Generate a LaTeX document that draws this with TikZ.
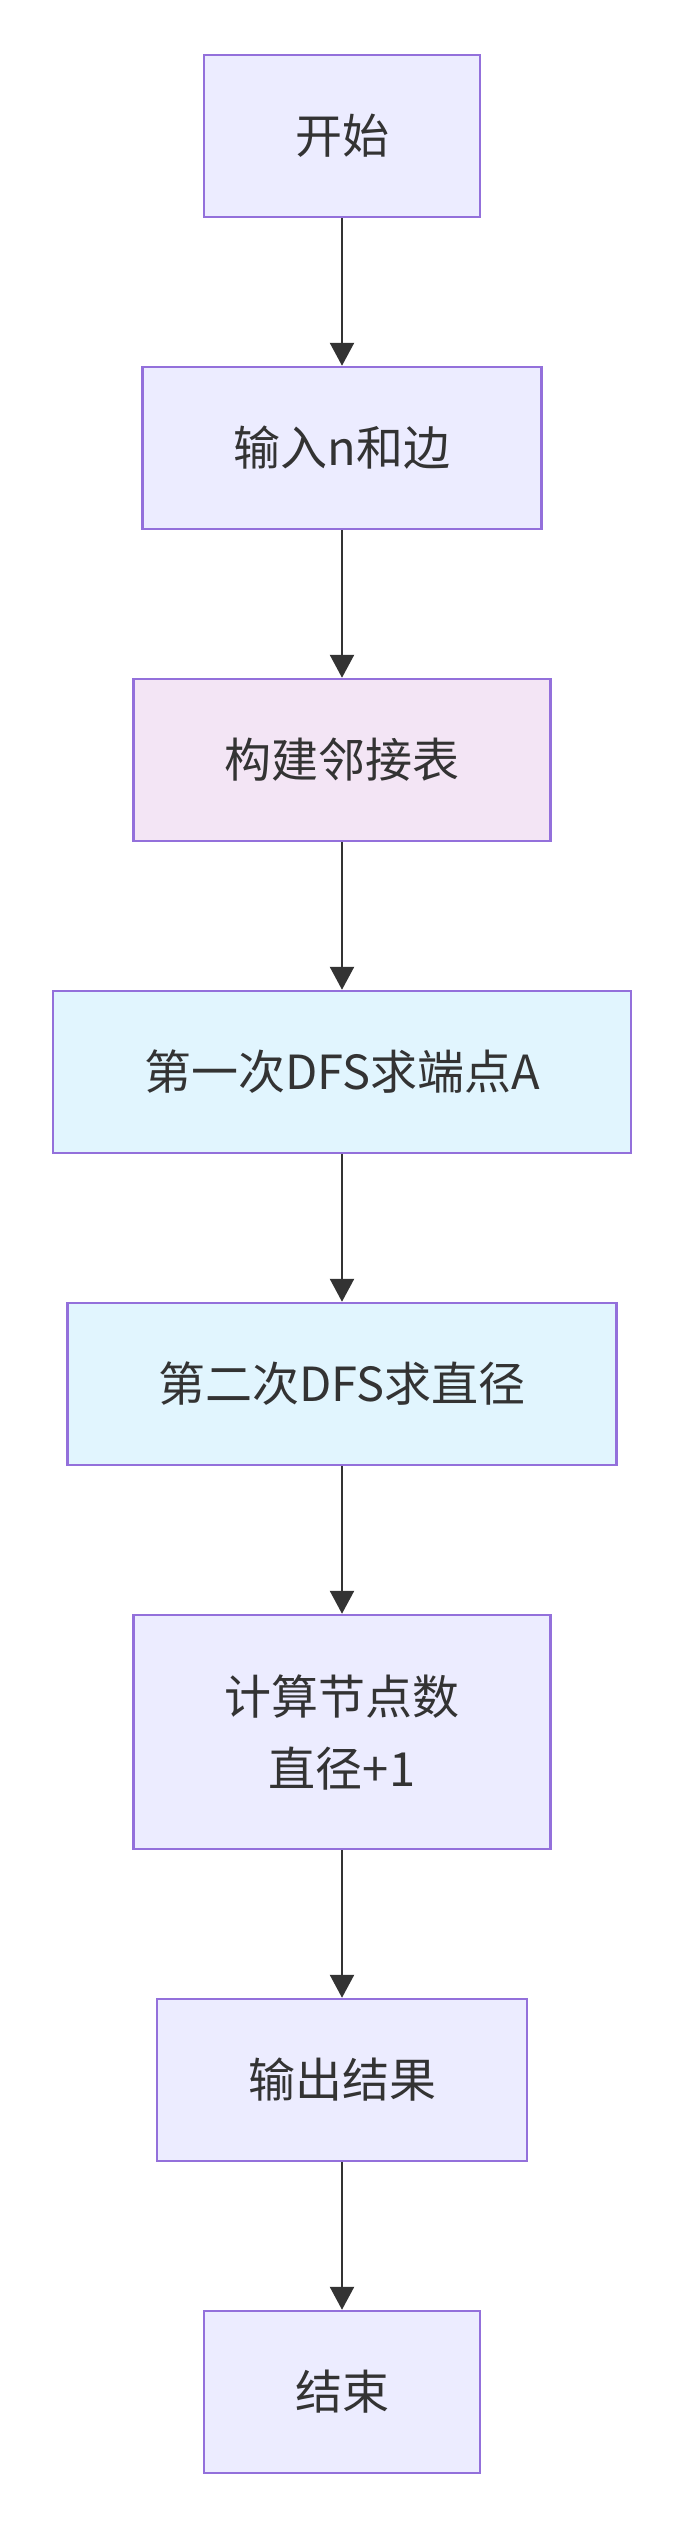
\documentclass[tikz,border=0pt]{standalone}
\usepackage{xcolor}
\usepackage{fontspec}
\setmainfont{Noto Sans CJK SC}
\usepackage{tikz}
\usetikzlibrary{positioning,arrows.meta}

\definecolor{boxfill}{HTML}{ECECFF}
\definecolor{boxdraw}{HTML}{9370DB}
\definecolor{pinkfill}{HTML}{F3E5F5}
\definecolor{bluefill}{HTML}{E1F5FE}
\definecolor{inkgray}{HTML}{333333}

\begin{document}
\begin{tikzpicture}[
    x=1pt, y=1pt,
    stepbox/.style={rectangle, draw=boxdraw, fill=boxfill, line width=2.5pt,
        minimum height=162pt, inner xsep=91pt, align=center, text=inkgray,
        font=\fontsize{47pt}{72pt}\selectfont},
    flow/.style={-{Triangle[width=24pt,length=23pt]}, draw=inkgray, line width=2.5pt},
    node distance=147.5pt
    ]
        \useasboundingbox (0,0) rectangle (684,-2528);

        %Nodes
        \node[stepbox]
            (start)  at (342,-136)   {开始};
        \node[stepbox]
            (input)  [below=of start]  {输入n和边};
        \node[stepbox, fill=pinkfill]
            (adj)    [below=of input]  {构建邻接表};
        \node[stepbox, fill=bluefill]
            (dfsA)   [below=of adj]    {第一次DFS求端点A};
        \node[stepbox, fill=bluefill]
            (dfsB)   [below=of dfsA]   {第二次DFS求直径};
        \node[stepbox, minimum height=234pt]
            (count)  [below=of dfsB]   {计算节点数\\直径+1};
        \node[stepbox]
            (output) [below=of count]  {输出结果};
        \node[stepbox]
            (finish) [below=of output] {结束};

        %Lines
        \draw[flow] (start.south) -- (input.north);
        \draw[flow] (input.south) -- (adj.north);
        \draw[flow] (adj.south) -- (dfsA.north);
        \draw[flow] (dfsA.south) -- (dfsB.north);
        \draw[flow] (dfsB.south) -- (count.north);
        \draw[flow] (count.south) -- (output.north);
        \draw[flow] (output.south) -- (finish.north);
    \end{tikzpicture}
\end{document}
